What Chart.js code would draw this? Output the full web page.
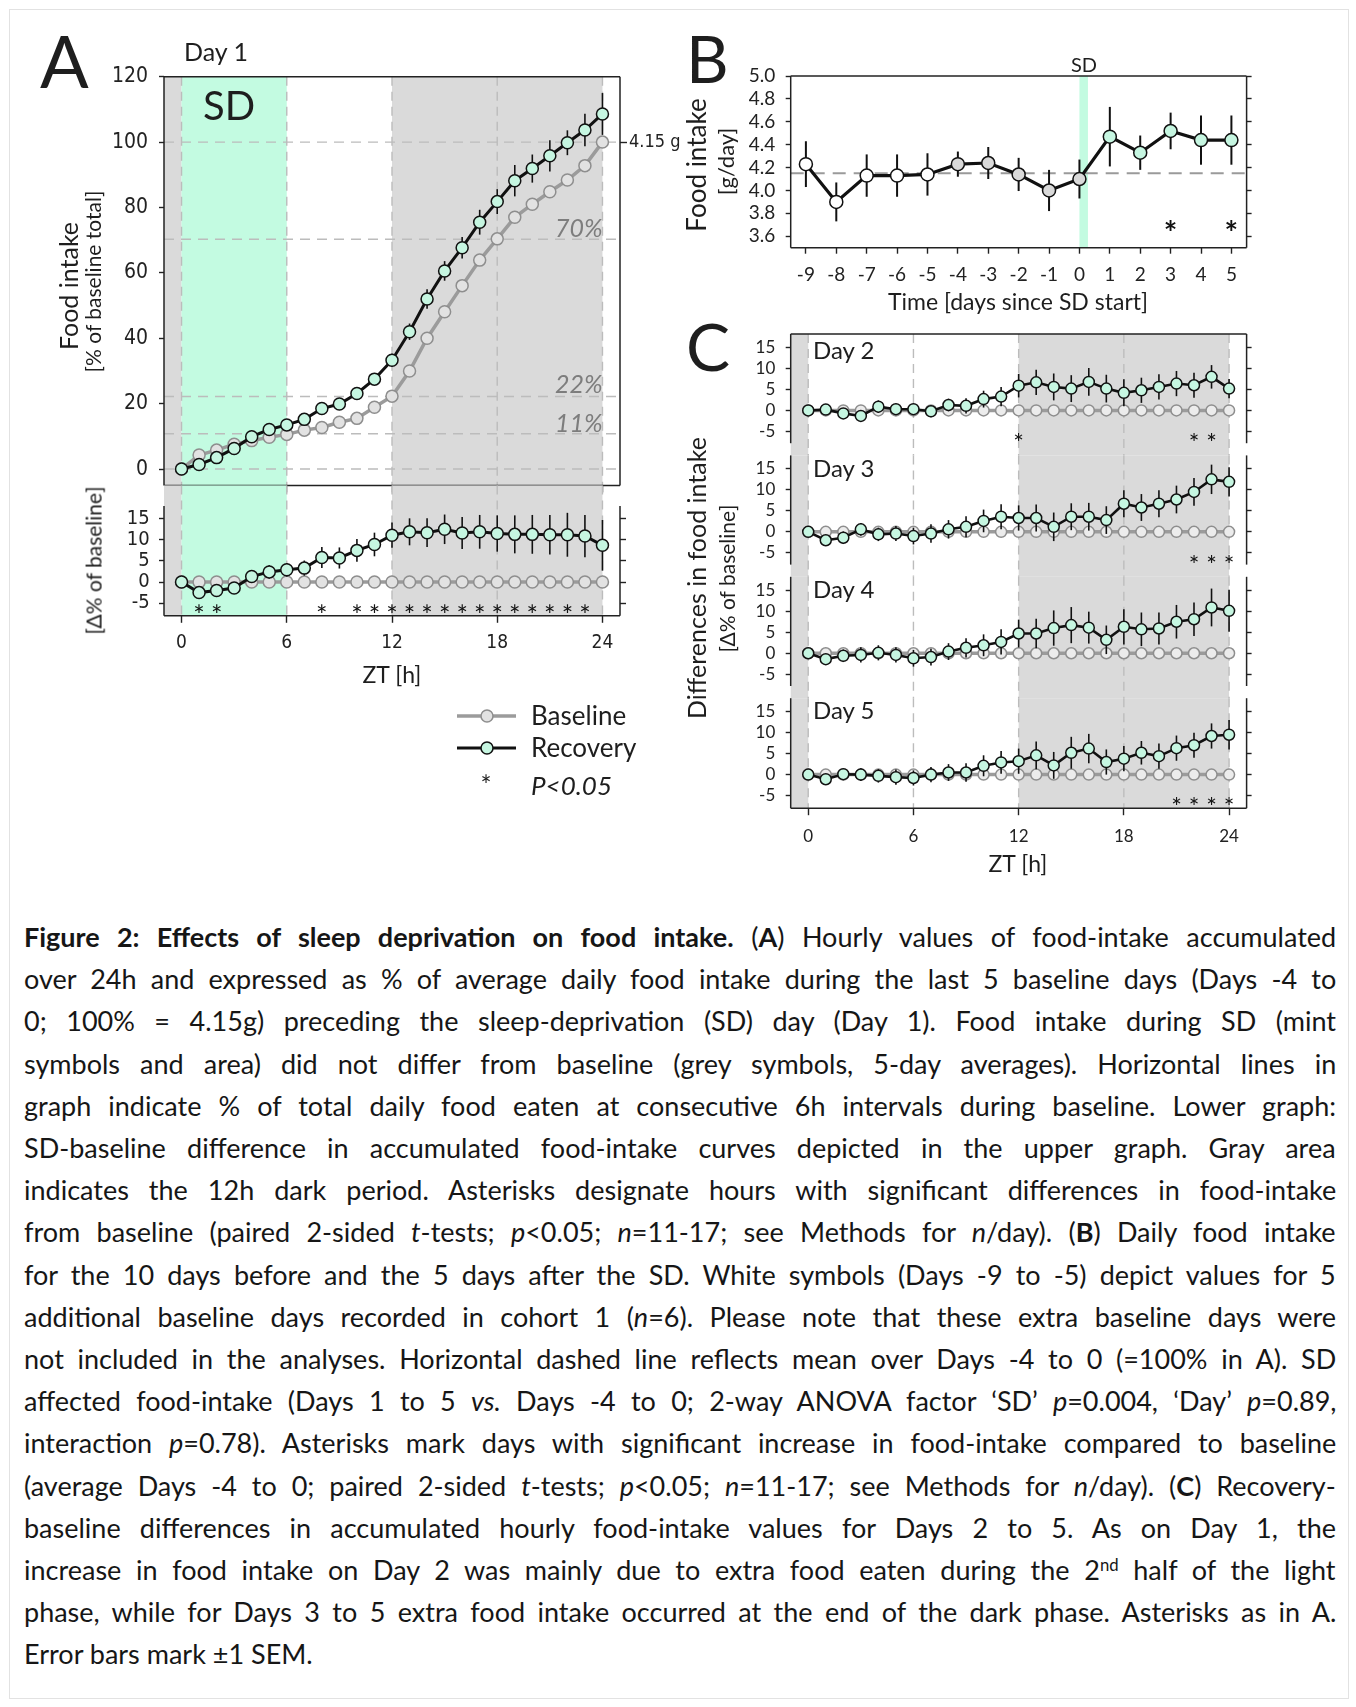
<!DOCTYPE html>
<html><head><meta charset="utf-8">
<script src="https://cdn.jsdelivr.net/npm/chart.js@4.4.1/dist/chart.umd.min.js"></script>
<style>
html,body{margin:0;padding:0;background:#fff;}
#page{position:relative;width:1356px;height:1707px;overflow:hidden;background:#fff;}
canvas.layer{position:absolute;left:0;top:0;}
.t{position:absolute;white-space:nowrap;color:#1e1e1e;}
#frameBox{position:absolute;left:9px;top:9px;width:1338px;height:1688px;border:1px solid #e2e2e2;}
</style></head>
<body><div id="page"><div id="frameBox"></div></div>
<script>
// ===================== DATA =====================
const ztHours = [0,1,2,3,4,5,6,7,8,9,10,11,12,13,14,15,16,17,18,19,20,21,22,23,24];
const ztTicks = [0,6,12,18,24];

// Panel A (Day 1) accumulated food intake, % of baseline total
const day1Baseline = [0,4.3,5.8,7.6,8.7,9.7,10.6,11.9,12.7,14.3,15.5,18.9,22.3,30.0,40.0,48.1,56.1,63.9,70.4,77.0,81.0,84.8,88.4,92.8,100];
const day1Recovery = [0,1.4,3.5,6.3,9.9,12.1,13.5,15.2,18.5,19.9,23.1,27.5,33.3,42.0,52.0,60.6,67.7,75.5,81.8,88.2,91.9,95.8,99.8,103.7,108.6];
const day1RecoverySem = [0,0.5,0.8,1.0,1.1,1.2,1.3,1.4,1.5,1.6,1.7,1.8,2.0,2.5,3.0,3.0,3.3,3.8,3.8,4.8,4.3,4.8,3.8,5.0,6.4];
const day1PhaseLines = [0,10.8,22.2,70.3,100];
const yTicksA = [0,20,40,60,80,100,120];

// Panel A lower: Recovery - baseline difference
const day1Diff = [0,-2.5,-2.0,-1.4,1.3,2.4,2.9,3.3,5.8,5.7,7.5,8.9,11.1,11.9,11.7,12.5,11.6,11.9,11.5,11.3,11.3,11.2,11.2,10.9,8.7];
const day1DiffSem = [0,1.0,1.1,1.2,1.4,1.6,1.6,1.8,2.5,2.5,2.7,2.8,3.0,3.2,3.4,3.5,3.8,4.0,4.3,4.5,4.6,4.7,5.2,5.0,6.0];
const day1Sig = [1,2,8,10,11,12,13,14,15,16,17,18,19,20,21,22,23];
const baselineDiff = [0,0,0,0,0,0,0,0,0,0,0,0,0,0,0,0,0,0,0,0,0,0,0,0,0];
const yTicksDiff = [-5,0,5,10,15];
const sigLevelDiff = -6.6;

// Panel B: daily food intake (g/day)
const sdDays = [-9,-8,-7,-6,-5,-4,-3,-2,-1,0,1,2,3,4,5];
const dailyFood = [4.23,3.90,4.13,4.13,4.14,4.23,4.24,4.14,4.00,4.10,4.47,4.33,4.52,4.44,4.44];
const dailyFoodSem = [0.20,0.17,0.185,0.185,0.185,0.11,0.14,0.145,0.18,0.17,0.26,0.15,0.16,0.215,0.215];
const dailyGroup = ['extra','extra','extra','extra','extra','base','base','base','base','base','rec','rec','rec','rec','rec'];
const dailySig = [3,5];
const sigLevelB = 3.68;
const baselineMean = 4.15;
const yTicksB = [3.6,3.8,4.0,4.2,4.4,4.6,4.8,5.0];

// Panel C: Recovery - baseline differences, Days 2-5
const day2Diff = [0,0.2,-0.7,-1.3,0.9,0.3,0.3,-0.2,1.3,1.1,2.7,3.3,5.9,6.7,5.6,5.2,6.8,5.2,4.2,4.8,5.6,6.4,6.0,8.0,5.2];
const day2Sem  = [0,1.0,1.2,1.2,1.5,1.3,1.3,1.4,1.5,1.8,2.0,2.3,2.8,3.0,3.2,3.2,3.3,3.3,3.2,3.0,3.0,3.0,3.0,2.8,2.3];
const day2Sig  = [12,22,23];
const day3Diff = [0,-2.0,-1.4,0.6,-0.6,-0.4,-1.0,-0.4,0.6,1.2,2.6,3.6,3.3,3.3,1.2,3.6,3.6,2.8,6.7,5.8,6.7,7.7,9.5,12.5,11.9];
const day3Sem  = [0,1.2,1.5,1.5,1.6,1.8,2.0,2.2,2.2,2.5,2.7,3.0,3.0,3.2,3.4,3.2,3.3,3.3,3.2,3.2,3.2,3.3,3.3,3.5,3.5];
const day3Sig  = [22,23,24];
const day4Diff = [0,-1.4,-0.6,-0.4,0.1,-0.4,-1.2,-0.9,0.4,1.3,1.9,2.7,4.7,4.7,6.0,6.7,6.1,3.2,6.3,5.7,5.9,7.5,8.1,10.9,10.1];
const day4Sem  = [0,1.2,1.5,1.8,1.8,1.8,2.0,2.0,2.0,2.3,2.6,3.0,3.3,3.5,4.2,4.3,3.8,3.4,4.2,4.0,3.8,4.0,4.0,4.5,5.0];
const day4Sig  = [];
const day5Diff = [0,-1.1,0.1,0,-0.3,-0.6,-0.8,0,0.5,0.5,2.1,2.9,3.2,4.6,2.2,5.2,6.2,3.0,3.8,5.2,4.4,6.3,7.0,9.2,9.5];
const day5Sem  = [0,1.0,1.2,1.5,1.6,1.8,1.8,1.8,2.0,2.2,2.5,2.7,3.0,3.3,3.2,3.8,3.5,3.0,3.0,2.8,3.0,3.0,3.0,3.0,3.5];
const day5Sig  = [21,22,23,24];

// ===================== STYLE =====================
const W = 1356, H = 900;
const MINT_AREA = '#c3fbe1', MINT_PT = '#c6f6e1', DARK = '#dadada';
const NARROW = "'Liberation Sans Narrow','DejaVu Sans Condensed','Arial Narrow',sans-serif";
const LATO = "Lato,'Open Sans',sans-serif";
Chart.defaults.font.family = LATO;
const page = document.getElementById('page');
const BOX_V = 70, BOX_H = 45;   // axis box sizes (label room)

function makeCanvas() {
  const c = document.createElement('canvas');
  c.width = W; c.height = H; c.className = 'layer';
  page.appendChild(c); return c;
}

function tickAxis(o) {
  const horizontal = o.position === 'top' || o.position === 'bottom';
  const shown = o.display !== false;
  return {
    type: 'linear', axis: horizontal ? 'x' : 'y', position: o.position, min: o.min, max: o.max,
    display: shown,
    afterFit: s => { if (horizontal) s.height = shown ? BOX_H : 0; else s.width = shown ? BOX_V : 0; },
    afterBuildTicks: ax => { ax.ticks = o.values.map(v => ({value: v})); },
    ticks: { display: o.labels !== false, font: o.font, color: '#222', padding: o.padding || 8,
             autoSkip: false, maxRotation: 0, minRotation: 0, callback: o.format || (v => String(v)) },
    grid: { display: true, drawOnChartArea: false, drawTicks: true, tickLength: o.tickLength || 6,
            tickColor: '#222', tickWidth: 1.4 },
    border: { display: false }
  };
}

function deco(cfg) {
  return {
    id: 'deco',
    beforeDatasetsDraw(chart) {
      const {ctx, chartArea: a} = chart; const x = chart.scales.x, y = chart.scales.y;
      ctx.save();
      (cfg.bands || []).forEach(b => {
        const x1 = x.getPixelForValue(b.from), x2 = x.getPixelForValue(b.to);
        ctx.fillStyle = b.color; ctx.fillRect(x1, a.top, x2 - x1, a.bottom - a.top);
      });
      ctx.lineWidth = 1.4; ctx.strokeStyle = '#bcbcbc'; ctx.setLineDash([9, 6]);
      (cfg.vlines || []).forEach(v => {
        const px = x.getPixelForValue(v);
        ctx.beginPath(); ctx.moveTo(px, a.top); ctx.lineTo(px, a.bottom); ctx.stroke();
      });
      (cfg.hlines || []).forEach(h => {
        ctx.strokeStyle = h.color || '#bcbcbc'; ctx.lineWidth = h.width || 1.4; ctx.setLineDash(h.dash || [10, 7]);
        const py = y.getPixelForValue(h.value);
        ctx.beginPath(); ctx.moveTo(a.left, py); ctx.lineTo(a.right, py); ctx.stroke();
      });
      ctx.setLineDash([]);
      ctx.strokeStyle = '#222'; ctx.lineWidth = 1.5;
      const f = cfg.frame || {};
      const seg = (x1, y1, x2, y2) => { ctx.beginPath(); ctx.moveTo(x1, y1); ctx.lineTo(x2, y2); ctx.stroke(); };
      if (f.top) seg(a.left, a.top, a.right, a.top);
      if (f.bottom) seg(a.left, a.bottom, a.right, a.bottom);
      const yt = f.sideFrom == null ? a.top : y.getPixelForValue(f.sideFrom);
      const yb = f.sideTo == null ? a.bottom : y.getPixelForValue(f.sideTo);
      seg(a.left, yt, a.left, yb); seg(a.right, yt, a.right, yb);
      ctx.restore();
    },
    beforeDatasetDraw(chart, args) {
      const sem = cfg.errors && cfg.errors[args.index]; if (!sem) return;
      const {ctx} = chart; const x = chart.scales.x, y = chart.scales.y;
      const data = chart.data.datasets[args.index].data;
      ctx.save(); ctx.strokeStyle = '#111'; ctx.lineWidth = cfg.errWidth || 1.6;
      data.forEach((p, j) => {
        if (!sem[j]) return;
        const px = x.getPixelForValue(p.x);
        ctx.beginPath(); ctx.moveTo(px, y.getPixelForValue(p.y + sem[j])); ctx.lineTo(px, y.getPixelForValue(p.y - sem[j])); ctx.stroke();
      });
      ctx.restore();
    },
    afterDatasetsDraw(chart) {
      const s = cfg.stars; if (!s) return;
      const {ctx} = chart; const x = chart.scales.x, y = chart.scales.y;
      ctx.save(); ctx.fillStyle = '#111'; ctx.font = `${s.weight || 400} ${s.size}px ${LATO}`;
      ctx.textAlign = 'center'; ctx.textBaseline = 'alphabetic';
      s.xs.forEach(v => ctx.fillText('*', x.getPixelForValue(v), y.getPixelForValue(s.level) + 0.56 * s.size));
      ctx.restore();
    }
  };
}

function lineChart(area, scales, datasets, cfg) {
  const p = {left: area.left, top: area.top, right: W - area.right, bottom: H - area.bottom};
  Object.values(scales).forEach(s => {
    if (s.display === false) return;
    if (s.position === 'left') p.left -= BOX_V;
    else if (s.position === 'right') p.right -= BOX_V;
    else if (s.position === 'bottom') p.bottom -= BOX_H;
    else if (s.position === 'top') p.top -= BOX_H;
  });
  return new Chart(makeCanvas(), {
    type: 'line',
    data: { datasets },
    options: {
      responsive: false, animation: false, devicePixelRatio: 1, events: [],
      layout: { padding: p },
      plugins: { legend: {display: false}, tooltip: {enabled: false} },
      elements: { line: { tension: 0 } },
      scales
    },
    plugins: [deco(cfg)]
  });
}

const toXY = (xs, ys) => xs.map((x, i) => ({x, y: ys[i]}));
const recStyle = (r, lw) => ({ borderColor: '#111', borderWidth: lw, pointRadius: r, pointBackgroundColor: MINT_PT,
  pointBorderColor: '#111', pointBorderWidth: 1.5, clip: false, xAxisID: 'x', yAxisID: 'y' });
const baseStyle = (r, fill) => ({ borderColor: '#9b9b9b', borderWidth: 3.5, pointRadius: r, pointBackgroundColor: fill,
  pointBorderColor: '#8e8e8e', pointBorderWidth: 1.5, clip: false, xAxisID: 'x', yAxisID: 'y' });
const ztBands = [{from: -1, to: 0, color: DARK}, {from: 12, to: 24, color: DARK}];

// ---------- Panel A upper ----------
lineChart({left: 164, top: 76.7, right: 620, bottom: 485.4}, {
  x: tickAxis({position: 'bottom', min: -1, max: 25, values: ztTicks, labels: false, tickLength: 7}),
  y: tickAxis({position: 'left', min: -5, max: 120, values: yTicksA, font: {family: NARROW, size: 21}, padding: 11, tickLength: 5}),
  yr: tickAxis({position: 'right', min: -5, max: 120, values: [100], font: {family: NARROW, size: 18}, padding: 2, tickLength: 7, format: () => '4.15 g'})
}, [
  Object.assign({data: toXY(ztHours, day1Recovery)}, recStyle(6, 3)),
  Object.assign({data: toXY(ztHours, day1Baseline)}, baseStyle(6, '#e2e2e2'))
], {
  bands: [...ztBands, {from: 0, to: 6, color: MINT_AREA}], vlines: ztTicks,
  hlines: day1PhaseLines.map(v => ({value: v})),
  frame: {top: true, bottom: true}, errors: {0: day1RecoverySem}
});

// ---------- Panel A lower ----------
lineChart({left: 164, top: 485.4, right: 620, bottom: 615.8}, {
  x: tickAxis({position: 'bottom', min: -1, max: 25, values: ztTicks, font: {family: NARROW, size: 19}, padding: 8.8, tickLength: 7}),
  y: tickAxis({position: 'left', min: -8, max: 22.9, values: yTicksDiff, font: {family: NARROW, size: 20}, padding: 9.4, tickLength: 5}),
  yr: tickAxis({position: 'right', min: -8, max: 22.9, values: yTicksDiff, labels: false, tickLength: 6})
}, [
  Object.assign({data: toXY(ztHours, day1Diff)}, recStyle(6, 3)),
  Object.assign({data: toXY(ztHours, baselineDiff)}, baseStyle(6, '#e2e2e2'))
], {
  bands: [...ztBands, {from: 0, to: 6, color: MINT_AREA}], vlines: ztTicks,
  frame: {bottom: true, sideFrom: 18}, errors: {0: day1DiffSem},
  stars: {xs: day1Sig, level: sigLevelDiff, size: 27}
});

// ---------- Panel B ----------
const groupFill = {extra: '#ffffff', base: '#d9d9d9', rec: MINT_PT};
lineChart({left: 790.7, top: 76, right: 1246.6, bottom: 247.7}, {
  x: tickAxis({position: 'bottom', min: -9.5, max: 5.5, values: sdDays, font: {family: LATO, size: 19}, padding: 9.9, tickLength: 6}),
  y: tickAxis({position: 'left', min: 3.5, max: 5.0, values: yTicksB, font: {family: LATO, size: 19}, padding: 10.4, tickLength: 5, format: v => v.toFixed(1)}),
  yr: tickAxis({position: 'right', min: 3.5, max: 5.0, values: yTicksB, labels: false, tickLength: 5})
}, [
  { data: toXY(sdDays, dailyFood), borderColor: '#111', borderWidth: 3.2, pointRadius: 6.5,
    pointBackgroundColor: dailyGroup.map(g => groupFill[g]), pointBorderColor: '#111', pointBorderWidth: 1.5,
    clip: false, xAxisID: 'x', yAxisID: 'y' }
], {
  bands: [{from: 0, to: 0.28, color: MINT_AREA}],
  hlines: [{value: baselineMean, color: '#9a9a9a', width: 2, dash: [13, 8]}],
  frame: {top: true, bottom: true}, errors: {0: dailyFoodSem}, errWidth: 2,
  stars: {xs: dailySig, level: sigLevelB, size: 32, weight: 700}
});

// ---------- Panel C ----------
const cPanels = [
  {diff: day2Diff, sem: day2Sem, sig: day2Sig},
  {diff: day3Diff, sem: day3Sem, sig: day3Sig},
  {diff: day4Diff, sem: day4Sem, sig: day4Sig},
  {diff: day5Diff, sem: day5Sem, sig: day5Sig}
];
cPanels.forEach((p, k) => {
  const last = k === cPanels.length - 1;
  const top = 334 + 121.4 * k;
  const bottom = last ? 808.2 : top + 121.4;
  const yMin = last ? -8.0 : -10.7, yMax = 18.2;
  lineChart({left: 790.7, top, right: 1246.6, bottom}, {
    x: tickAxis({position: 'bottom', min: -1, max: 25, values: ztTicks, display: last, font: {family: LATO, size: 17}, padding: 11.3, tickLength: 7}),
    y: tickAxis({position: 'left', min: yMin, max: yMax, values: yTicksDiff, font: {family: LATO, size: 17}, padding: 10.4, tickLength: 5}),
    yr: tickAxis({position: 'right', min: yMin, max: yMax, values: yTicksDiff, labels: false, tickLength: 5})
  }, [
    Object.assign({data: toXY(ztHours, p.diff)}, recStyle(5.5, 2.6)),
    Object.assign({data: toXY(ztHours, baselineDiff)}, baseStyle(5.5, '#ececec'))
  ], {
    bands: ztBands, vlines: ztTicks,
    frame: {top: k === 0, bottom: last, sideTo: last ? null : -7.8}, errors: {0: p.sem},
    stars: {xs: p.sig, level: sigLevelDiff, size: 25}
  });
});

// ===================== TEXT =====================
const PROBE = '<span style="display:inline-block;width:0;height:0;vertical-align:baseline"></span>';
function addText(html, o) {
  const d = document.createElement('div');
  d.className = 't';
  d.style.font = `${o.italic ? 'italic' : 'normal'} ${o.weight || 400} ${o.size}px ${o.family || LATO}`;
  d.style.lineHeight = 'normal';
  if (o.color) d.style.color = o.color;
  d.innerHTML = html + PROBE;
  page.appendChild(d);
  const base = d.lastChild.offsetTop;
  const w = d.offsetWidth, h = d.offsetHeight;
  if (o.rotate) {
    d.style.left = (o.cx - w / 2) + 'px'; d.style.top = (o.cy - h / 2) + 'px';
    d.style.transform = 'rotate(-90deg)';
  } else {
    let left = o.x;
    if (o.anchor === 'center') left -= w / 2; else if (o.anchor === 'right') left -= w;
    d.style.left = left + 'px'; d.style.top = (o.y - base) + 'px';
  }
  return d;
}

// Panel A
addText('A', {x: 40, y: 88, size: 72});
addText('Day 1', {x: 184, y: 61, size: 25});
addText('SD', {x: 203, y: 120, size: 40});
addText('70%', {x: 603, y: 237, size: 25, italic: true, color: '#7d7d7d', anchor: 'right'});
addText('22%', {x: 603, y: 393, size: 25, italic: true, color: '#7d7d7d', anchor: 'right'});
addText('11%', {x: 603, y: 432, size: 25, italic: true, color: '#7d7d7d', anchor: 'right'});
addText('Food intake', {rotate: true, cx: 68, cy: 286, size: 25});
addText('[% of baseline total]', {rotate: true, cx: 93, cy: 281, size: 21});
addText('[Δ% of baseline]', {rotate: true, cx: 93, cy: 560, size: 21});
addText('ZT [h]', {x: 392, y: 683, size: 23, anchor: 'center'});
addText('Baseline', {x: 531, y: 725, size: 26});
addText('Recovery', {x: 531, y: 757, size: 26});
addText('*', {x: 486, y: 795, size: 26, anchor: 'center'});
addText('P&lt;0.05', {x: 531, y: 795, size: 26, italic: true});

// Panel B
addText('B', {x: 686, y: 83, size: 66});
addText('SD', {x: 1084, y: 72, size: 20, anchor: 'center'});
addText('Food intake', {rotate: true, cx: 695, cy: 165, size: 26});
addText('[g/day]', {rotate: true, cx: 726, cy: 161, size: 22});
addText('Time [days since SD start]', {x: 1018, y: 310, size: 23, anchor: 'center'});

// Panel C
addText('C', {x: 686, y: 371, size: 66});
['Day 2', 'Day 3', 'Day 4', 'Day 5'].forEach((t, i) => addText(t, {x: 813, y: [359, 477, 598, 719][i], size: 24}));
addText('Differences in food intake', {rotate: true, cx: 696, cy: 578, size: 25});
addText('[Δ% of baseline]', {rotate: true, cx: 726, cy: 578, size: 21});
addText('ZT [h]', {x: 1018, y: 872, size: 23, anchor: 'center'});

// Legend glyphs
(function () {
  const ns = 'http://www.w3.org/2000/svg';
  const svg = document.createElementNS(ns, 'svg');
  svg.setAttribute('width', 1356); svg.setAttribute('height', 900);
  svg.style.cssText = 'position:absolute;left:0;top:0';
  const mk = (tag, attrs) => { const e = document.createElementNS(ns, tag); for (const k in attrs) e.setAttribute(k, attrs[k]); svg.appendChild(e); };
  mk('line', {x1: 457, y1: 716, x2: 516, y2: 716, stroke: '#9b9b9b', 'stroke-width': 3.5});
  mk('circle', {cx: 487, cy: 716, r: 6, fill: '#e2e2e2', stroke: '#8e8e8e', 'stroke-width': 1.5});
  mk('line', {x1: 457, y1: 748, x2: 516, y2: 748, stroke: '#111', 'stroke-width': 3});
  mk('circle', {cx: 487, cy: 748, r: 6, fill: MINT_PT, stroke: '#111', 'stroke-width': 1.5});
  page.appendChild(svg);
})();

// ===================== CAPTION =====================
const captionLines = [
  '<b>Figure 2: Effects of sleep deprivation on food intake.</b> (<b>A</b>) Hourly values of food-intake accumulated',
  'over 24h and expressed as % of average daily food intake during the last 5 baseline days (Days -4 to',
  '0; 100% = 4.15g) preceding the sleep-deprivation (SD) day (Day 1). Food intake during SD (mint',
  'symbols and area) did not differ from baseline (grey symbols, 5-day averages). Horizontal lines in',
  'graph indicate % of total daily food eaten at consecutive 6h intervals during baseline. Lower graph:',
  'SD-baseline difference in accumulated food-intake curves depicted in the upper graph. Gray area',
  'indicates the 12h dark period. Asterisks designate hours with significant differences in food-intake',
  'from baseline (paired 2-sided <i>t</i>-tests; <i>p</i>&lt;0.05; <i>n</i>=11-17; see Methods for <i>n</i>/day). (<b>B</b>) Daily food intake',
  'for the 10 days before and the 5 days after the SD. White symbols (Days -9 to -5) depict values for 5',
  'additional baseline days recorded in cohort 1 (<i>n</i>=6). Please note that these extra baseline days were',
  'not included in the analyses. Horizontal dashed line reflects mean over Days -4 to 0 (=100% in A). SD',
  'affected food-intake (Days 1 to 5 <i>vs.</i> Days -4 to 0; 2-way ANOVA factor \u2018SD\u2019 <i>p</i>=0.004, \u2018Day\u2019 <i>p</i>=0.89,',
  'interaction <i>p</i>=0.78). Asterisks mark days with significant increase in food-intake compared to baseline',
  '(average Days -4 to 0; paired 2-sided <i>t</i>-tests; <i>p</i>&lt;0.05; <i>n</i>=11-17; see Methods for <i>n</i>/day). (<b>C</b>) Recovery-',
  'baseline differences in accumulated hourly food-intake values for Days 2 to 5. As on Day 1, the',
  'increase in food intake on Day 2 was mainly due to extra food eaten during the 2<sup style="font-size:0.62em;line-height:0;vertical-align:0.55em">nd</sup> half of the light',
  'phase, while for Days 3 to 5 extra food intake occurred at the end of the dark phase. Asterisks as in A.',
  'Error bars mark \u00b11 SEM.'
];
const capLeft = 24, capWidth = 1312, capBase = 947, capPitch = 42.2;
captionLines.forEach((html, i) => {
  const d = addText(html, {x: capLeft, y: capBase + capPitch * i, size: 27, color: '#161616'});
  if (i < captionLines.length - 1) {
    const w = d.offsetWidth;
    const n = (d.textContent.match(/ /g) || []).length;
    if (w <= capWidth && n > 0) d.style.wordSpacing = ((capWidth - w) / n) + 'px';
    else if (w > capWidth) { d.style.transformOrigin = '0 0'; d.style.transform = `scaleX(${capWidth / w})`; }
  }
});
</script>
</body></html>
